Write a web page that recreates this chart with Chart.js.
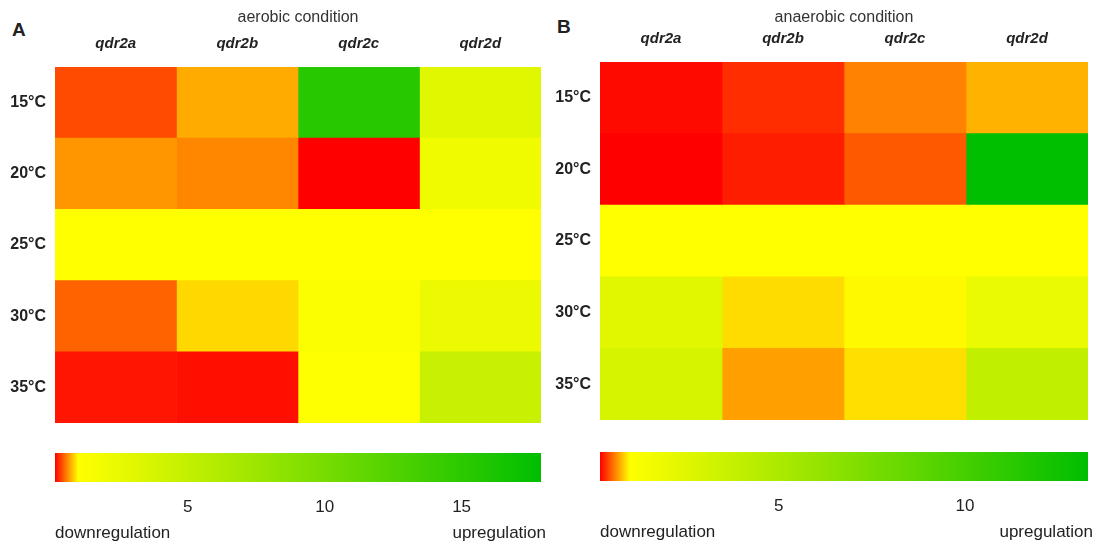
<!DOCTYPE html>
<html>
<head>
<meta charset="utf-8">
<script src="https://cdn.jsdelivr.net/npm/chart.js@4.4.1/dist/chart.umd.min.js"></script>
<style>
  body { margin: 0; background: #fff; width: 1105px; height: 545px; position: relative; overflow: hidden; font-family: "Liberation Sans", Arial, sans-serif; }
  .box { position: absolute; }
  .panel { position: absolute; font-weight: bold; font-size: 19px; color: #222; }
</style>
</head>
<body>
<div class="panel" style="left:12px; top:19px;">A</div>
<div class="panel" style="left:557px; top:16px;">B</div>
<div class="box" style="left:0; top:0; width:545px; height:430px;"><canvas id="heatA"></canvas></div>
<div class="box" style="left:545px; top:0; width:545px; height:430px;"><canvas id="heatB"></canvas></div>
<div class="box" style="left:0; top:440px; width:555px; height:105px;"><canvas id="barA"></canvas></div>
<div class="box" style="left:545px; top:439px; width:560px; height:106px;"><canvas id="barB"></canvas></div>
<script>
// rows and columns
const temps = ['15°C', '20°C', '25°C', '30°C', '35°C'];
const genes = ['qdr2a', 'qdr2b', 'qdr2c', 'qdr2d'];

// fold change, aerobic condition (one array per gene, rows = temps)
const aerobic_qdr2a = [0.40, 0.65, 1.0, 0.48, 0.22];
const aerobic_qdr2b = [0.72, 0.60, 1.0, 0.87, 0.20];
const aerobic_qdr2c = [15.3, 0.15, 1.0, 1.3, 1.05];
const aerobic_qdr2d = [3.0, 2.0, 1.0, 2.3, 4.7];

// fold change, anaerobic condition
const anaerobic_qdr2a = [0.23, 0.20, 1.0, 2.5, 3.0];
const anaerobic_qdr2b = [0.34, 0.29, 1.0, 0.89, 0.70];
const anaerobic_qdr2c = [0.61, 0.48, 1.0, 0.98, 0.90];
const anaerobic_qdr2d = [0.76, 13.3, 1.0, 2.0, 4.0];

// colour scale ranges and colour bar ticks
const rangeA = [0.15, 17.9];
const rangeB = [0.2, 13.3];
const ticksA = [5, 10, 15];
const ticksB = [5, 10];

const RED = [255, 0, 0], YELLOW = [255, 255, 0], GREEN = [0, 190, 0];

function mix(a, b, t) {
    return a.map((c, i) => Math.round(c + (b[i] - c) * t));
}
function colorFor(v, range) {
    let c;
    if (v < 1) {
        const t = Math.max(0, (v - range[0]) / (1 - range[0]));
        c = mix(RED, YELLOW, t);
    } else {
        const t = Math.min(1, (v - 1) / (range[1] - 1));
        c = mix(YELLOW, GREEN, t);
    }
    return 'rgb(' + c.join(',') + ')';
}

function heatmap(id, title, columns, range, axisH, pad) {
    const ctx = document.getElementById(id).getContext('2d');
    return new Chart(ctx, {
        type: 'bar',
        data: {
            labels: temps,
            datasets: columns.map((vals, col) => ({
                label: genes[col],
                data: vals.map(() => [col, col + 1]),
                backgroundColor: vals.map(v => colorFor(v, range)),
                borderWidth: 0,
                grouped: false,
                barPercentage: 1,
                categoryPercentage: 1
            }))
        },
        options: {
            indexAxis: 'y',
            responsive: true,
            maintainAspectRatio: false,
            animation: false,
            layout: { padding: pad },
            plugins: { legend: { display: false }, tooltip: { enabled: false } },
            scales: {
                x: {
                    type: 'linear',
                    position: 'top',
                    min: 0,
                    max: 4,
                    grid: { display: false, drawTicks: false },
                    border: { display: false },
                    afterBuildTicks: (axis) => { axis.ticks = genes.map((g, i) => ({ value: i + 0.5 })); },
                    afterFit: (axis) => { axis.height = axisH; axis.paddingLeft = 0; axis.paddingRight = 0; },
                    ticks: {
                        autoSkip: false,
                        maxRotation: 0,
                        padding: 14,
                        color: '#222',
                        font: { family: 'Liberation Sans', size: 15, weight: 'bold', style: 'italic' },
                        callback: (v, i) => genes[i]
                    },
                    title: {
                        display: true,
                        text: title,
                        color: '#333',
                        padding: { top: 8, bottom: 0 },
                        font: { family: 'Liberation Sans', size: 16 }
                    }
                },
                y: {
                    grid: { display: false, drawTicks: false },
                    border: { display: false },
                    afterFit: (axis) => { axis.width = 55; axis.paddingTop = 0; axis.paddingBottom = 0; },
                    ticks: {
                        padding: 9,
                        color: '#222',
                        font: { family: 'Liberation Sans', size: 16, weight: 'bold' }
                    }
                }
            }
        }
    });
}

// draws the two end labels under a colour bar
const endLabels = {
    id: 'endLabels',
    afterDraw(chart) {
        const { ctx, chartArea } = chart;
        ctx.save();
        ctx.fillStyle = '#222';
        ctx.font = '17px "Liberation Sans"';
        ctx.textBaseline = 'middle';
        const y = chartArea.bottom + 51;
        ctx.textAlign = 'left';
        ctx.fillText('downregulation', chartArea.left, y);
        ctx.textAlign = 'right';
        ctx.fillText('upregulation', chartArea.right + 5, y);
        ctx.restore();
    }
};

function colorbar(id, range, tickVals, pad) {
    const ctx = document.getElementById(id).getContext('2d');
    return new Chart(ctx, {
        type: 'bar',
        data: {
            labels: [''],
            datasets: [{
                data: [[range[0], range[1]]],
                borderWidth: 0,
                barPercentage: 1,
                categoryPercentage: 1,
                backgroundColor: (c) => {
                    const chart = c.chart;
                    if (!chart.chartArea) return 'yellow';
                    const x = chart.scales.x;
                    const g = chart.ctx.createLinearGradient(x.getPixelForValue(range[0]), 0, x.getPixelForValue(range[1]), 0);
                    g.addColorStop(0, colorFor(range[0], range));
                    g.addColorStop((1 - range[0]) / (range[1] - range[0]), colorFor(1, range));
                    g.addColorStop(1, colorFor(range[1], range));
                    return g;
                }
            }]
        },
        options: {
            indexAxis: 'y',
            responsive: true,
            maintainAspectRatio: false,
            animation: false,
            layout: { padding: pad },
            plugins: { legend: { display: false }, tooltip: { enabled: false } },
            scales: {
                x: {
                    type: 'linear',
                    min: range[0],
                    max: range[1],
                    grid: { display: false, drawTicks: false },
                    border: { display: false },
                    afterBuildTicks: (axis) => { axis.ticks = tickVals.map(v => ({ value: v })); },
                    afterFit: (axis) => { axis.height = 36; axis.paddingLeft = 0; axis.paddingRight = 0; },
                    ticks: {
                        padding: 15,
                        color: '#222',
                        font: { family: 'Liberation Sans', size: 17 }
                    }
                },
                y: { display: false }
            }
        },
        plugins: [endLabels]
    });
}

heatmap('heatA', 'aerobic condition',
    [aerobic_qdr2a, aerobic_qdr2b, aerobic_qdr2c, aerobic_qdr2d], rangeA, 67,
    { left: 0, top: 0, right: 4, bottom: 7 });
heatmap('heatB', 'anaerobic condition',
    [anaerobic_qdr2a, anaerobic_qdr2b, anaerobic_qdr2c, anaerobic_qdr2d], rangeB, 62,
    { left: 0, top: 0, right: 2, bottom: 10 });

colorbar('barA', rangeA, ticksA, { left: 55, right: 14, top: 13, bottom: 27 });
colorbar('barB', rangeB, ticksB, { left: 55, right: 17, top: 13, bottom: 28 });
</script>
</body>
</html>
